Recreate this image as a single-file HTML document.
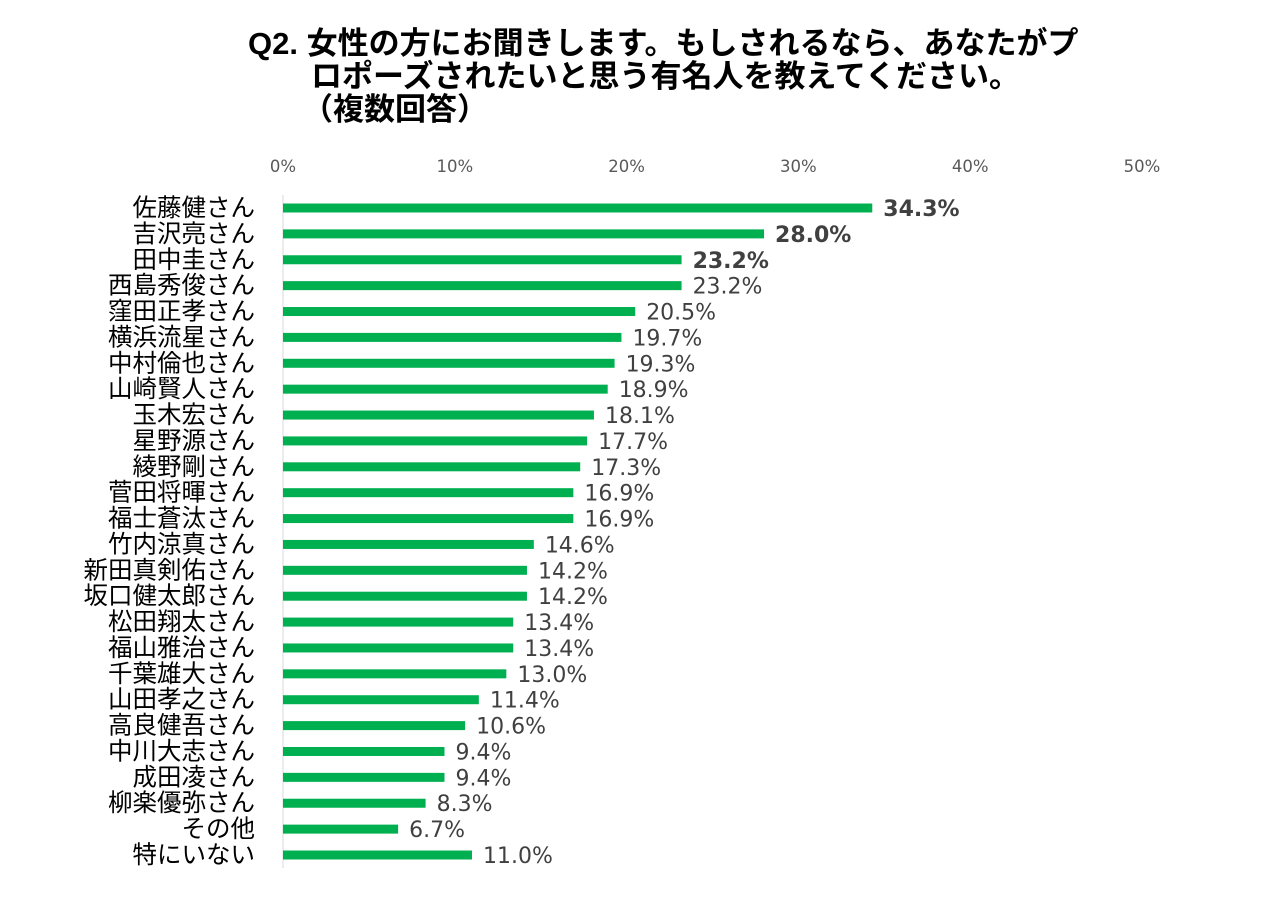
<!DOCTYPE html>
<html><head><meta charset="utf-8">
<style>
body{margin:0;background:#fff;}
#wrap{position:relative;width:1268px;height:897px;overflow:hidden;font-family:"Liberation Sans","Noto Sans CJK JP",sans-serif;}
.t{position:absolute;font-weight:bold;font-size:31px;color:#000;white-space:nowrap;line-height:33px;}
</style></head><body>
<div id="wrap">
<div class="t" style="left:248px;top:27px;">Q2. 女性の方にお聞きします。もしされるなら、あなたがプ</div>
<div class="t" style="left:311px;top:60px;">ロポーズされたいと思う有名人を教えてください。</div>
<div class="t" style="left:302px;top:93px;">（複数回答）</div>
<svg id="svg" width="1268" height="897" style="position:absolute;left:0;top:0"></svg>
</div>
<script>
const categories=["佐藤健さん","吉沢亮さん","田中圭さん","西島秀俊さん","窪田正孝さん","横浜流星さん","中村倫也さん","山崎賢人さん","玉木宏さん","星野源さん","綾野剛さん","菅田将暉さん","福士蒼汰さん","竹内涼真さん","新田真剣佑さん","坂口健太郎さん","松田翔太さん","福山雅治さん","千葉雄大さん","山田孝之さん","高良健吾さん","中川大志さん","成田凌さん","柳楽優弥さん","その他","特にいない"];
const values=[34.3,28.0,23.2,23.2,20.5,19.7,19.3,18.9,18.1,17.7,17.3,16.9,16.9,14.6,14.2,14.2,13.4,13.4,13.0,11.4,10.6,9.4,9.4,8.3,6.7,11.0];
const boldFlags=[1,1,1,0,0,0,0,0,0,0,0,0,0,0,0,0,0,0,0,0,0,0,0,0,0,0];
const tickValues=[0,10,20,30,40,50];
const tickLabels=["0%","10%","20%","30%","40%","50%"];
const NS="http://www.w3.org/2000/svg";
const svg=document.getElementById('svg');
const x=v=>283+v*17.18;
const y=i=>208+i*25.88;
function mk(tag,attrs){const e=document.createElementNS(NS,tag);for(const k in attrs)e.setAttribute(k,attrs[k]);svg.appendChild(e);return e;}
tickValues.forEach((t,i)=>{
 const e=mk('text',{x:x(t),y:172,'text-anchor':'middle','font-size':16.5,fill:'#595959','font-family':'DejaVu Sans, sans-serif'});
 e.textContent=tickLabels[i];
 
 
});
const ax=mk('line',{x1:283,x2:283,y1:195,y2:868,stroke:'#d9d9d9','stroke-width':1});


categories.forEach((c,i)=>{
 const cy=y(i);
 const r=mk('rect',{x:283,y:cy-4.5,width:x(values[i])-283,height:9,fill:'#00b050'});
 
 
 const l=mk('text',{x:255,y:cy+8,'text-anchor':'end','font-size':24.5,fill:'#000','font-family':'Liberation Sans, Noto Sans CJK JP, sans-serif'});
 l.textContent=c;
 
 
 const v=mk('text',{x:x(values[i])+11,y:cy+8,'font-size':22,fill:'#404040','font-weight':boldFlags[i]?'bold':'normal','font-family':'DejaVu Sans, sans-serif'});
 v.textContent=values[i].toFixed(1)+'%';
 
 
});
</script>
</body></html>
